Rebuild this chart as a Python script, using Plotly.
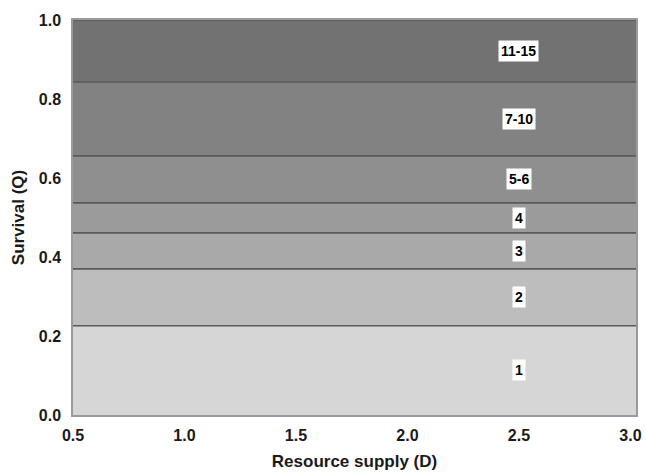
import plotly.graph_objects as go

# Survival bands (Q) over the resource-supply range (D)
band_labels = ["1", "2", "3", "4", "5-6", "7-10", "11-15"]
band_upper = [0.226, 0.370, 0.461, 0.537, 0.656, 0.843, 1.0]
band_colors = ["#d6d6d6", "#bdbdbd", "#a9a9a9", "#9b9b9b", "#8f8f8f", "#828282", "#727272"]
d_range = [0.5, 3.025]
label_x = 2.5

x_ticks = [0.5, 1.0, 1.5, 2.0, 2.5, 3.0]
y_ticks = [0.0, 0.2, 0.4, 0.6, 0.8, 1.0]

FONT = "Liberation Sans, Arial, sans-serif"

fig = go.Figure()

# baseline at Q = 0 so the first band fills down to the axis
fig.add_trace(go.Scatter(x=d_range, y=[0, 0], mode="lines",
                         line=dict(width=0), showlegend=False, hoverinfo="skip"))

for label, upper, color in zip(band_labels, band_upper, band_colors):
    fig.add_trace(go.Scatter(
        x=d_range, y=[upper, upper], mode="lines",
        fill="tonexty", fillcolor=color,
        line=dict(color="#5a5a5a", width=1.6),
        name=label, showlegend=False, hoverinfo="skip",
    ))

lower = [0.0] + band_upper[:-1]
for label, lo, hi in zip(band_labels, lower, band_upper):
    fig.add_annotation(
        x=label_x, y=(lo + hi) / 2, text=label, showarrow=False,
        bgcolor="white", borderpad=2,
        font=dict(family=FONT, size=14, color="black", weight="bold"),
    )

axis_font = dict(family=FONT, size=16, color="#1a1a1a", weight="bold")
title_font = dict(family=FONT, size=17, color="#1a1a1a", weight="bold")

fig.update_layout(
    width=646, height=473,
    margin=dict(l=73, r=10, t=20, b=58),
    paper_bgcolor="white", plot_bgcolor="white",
    xaxis=dict(
        range=d_range, tickvals=x_ticks, ticktext=[f"{v:.1f}" for v in x_ticks],
        showgrid=False, zeroline=False, showline=True, linecolor="#9a9a9a",
        linewidth=1.5, mirror=True, ticks="", ticklabelstandoff=5,
        tickfont=axis_font, automargin=False,
        title=dict(text="Resource supply (D)", standoff=12, font=title_font),
    ),
    yaxis=dict(
        range=[0, 1.0], tickvals=y_ticks, ticktext=[f"{v:.1f}" for v in y_ticks],
        showgrid=False, zeroline=False, showline=True, linecolor="#9a9a9a",
        linewidth=1.5, mirror=True, ticks="", ticklabelstandoff=7,
        tickfont=axis_font, automargin=False,
        title=dict(text="Survival (Q)", standoff=10, font=title_font),
    ),
)

fig.write_html("out.html")
